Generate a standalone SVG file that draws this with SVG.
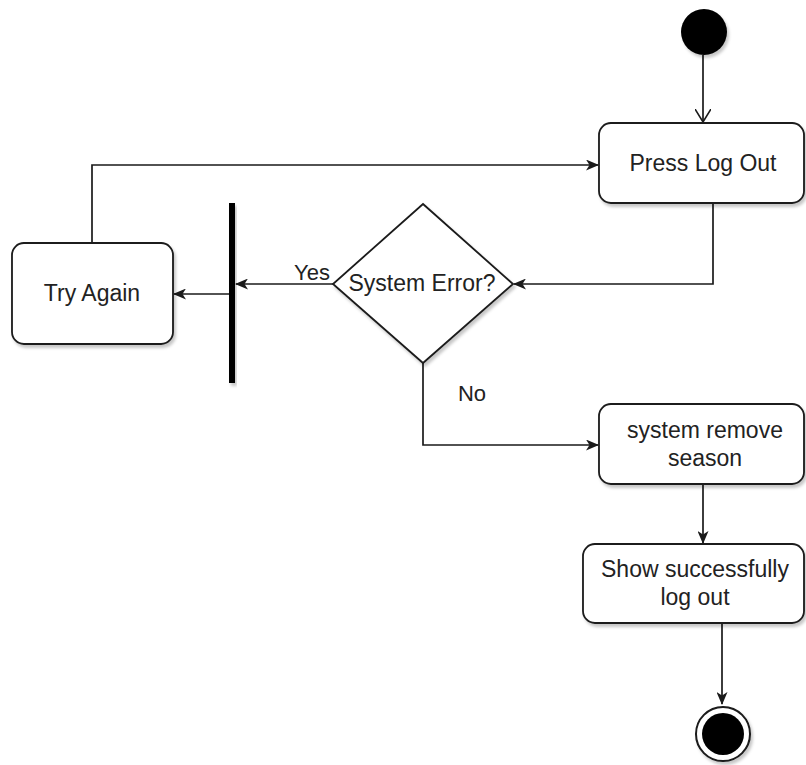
<svg xmlns="http://www.w3.org/2000/svg" width="806" height="765" viewBox="0 0 806 765">
  <style>
    .box { fill: #ffffff; stroke: #1a1a1a; stroke-width: 1.8; }
    .lbl { font-family: "Liberation Sans", Arial, sans-serif; font-size: 23px; fill: #222222; text-anchor: middle; }
    .edge { fill: none; stroke: #1a1a1a; stroke-width: 1.7; }
  </style>
  <defs>
    <filter id="shadow" x="-10%" y="-10%" width="130%" height="140%">
      <feDropShadow dx="2" dy="3" stdDeviation="1.6" flood-color="#000000" flood-opacity="0.22"/>
    </filter>
    <marker id="arrow" viewBox="0 0 13 11" refX="12" refY="5.5" markerWidth="13" markerHeight="11" markerUnits="userSpaceOnUse" orient="auto">
      <path d="M0,0 L13,5.5 L0,11 L3.5,5.5 Z" fill="#1a1a1a"/>
    </marker>
    <marker id="open" viewBox="0 0 14 16" refX="13" refY="8" markerWidth="14" markerHeight="16" markerUnits="userSpaceOnUse" orient="auto">
      <path d="M0,0 L13,8 L0,16" fill="none" stroke="#1a1a1a" stroke-width="1.6"/>
    </marker>
  </defs>
  <rect width="806" height="765" fill="#ffffff"/>

  <!-- connectors -->
  <g id="connectors">
    <path class="edge" d="M703,55 L703,122" marker-end="url(#open)"/>
    <path class="edge" d="M713,203 L713,284 L514,284" marker-end="url(#arrow)"/>
    <path class="edge" d="M333,284 L236,284" marker-end="url(#arrow)"/>
    <path class="edge" d="M229,294 L174,294" marker-end="url(#arrow)"/>
    <path class="edge" d="M92,243 L92,165 L598,165" marker-end="url(#arrow)"/>
    <path class="edge" d="M423,363 L423,445 L598,445" marker-end="url(#arrow)"/>
    <path class="edge" d="M703,484 L703,543" marker-end="url(#arrow)"/>
    <path class="edge" d="M722,623 L722,704" marker-end="url(#arrow)"/>
    <text class="lbl" x="312" y="280" style="font-size:22px">Yes</text>
    <text class="lbl" x="472" y="401" style="font-size:22px">No</text>
  </g>

  <!-- start state -->
  <g id="start">
    <circle cx="704" cy="32" r="23" fill="#000000" filter="url(#shadow)"/>
  </g>

  <g id="press-log-out">
    <rect class="box" x="599" y="123" width="205" height="80" rx="12" filter="url(#shadow)"/>
    <text class="lbl" x="703" y="171">Press Log Out</text>
  </g>

  <g id="system-error">
    <polygon class="box" points="423,204 513,284 423,363 333,284" filter="url(#shadow)"/>
    <text class="lbl" x="422" y="291">System Error?</text>
  </g>

  <g id="fork-bar">
    <rect x="229" y="203" width="6" height="180" fill="#000000" filter="url(#shadow)"/>
  </g>

  <g id="try-again">
    <rect class="box" x="12" y="243" width="161" height="101" rx="12" filter="url(#shadow)"/>
    <text class="lbl" x="92" y="301">Try Again</text>
  </g>

  <g id="system-remove-season">
    <rect class="box" x="599" y="404" width="205" height="80" rx="12" filter="url(#shadow)"/>
    <text class="lbl" x="705" y="438">system remove</text>
    <text class="lbl" x="705" y="466">season</text>
  </g>

  <g id="show-successfully">
    <rect class="box" x="583" y="544" width="221" height="79" rx="12" filter="url(#shadow)"/>
    <text class="lbl" x="695" y="577">Show successfully</text>
    <text class="lbl" x="695" y="605">log out</text>
  </g>

  <!-- final state -->
  <g id="end">
    <circle cx="723" cy="734" r="27" fill="#ffffff" stroke="#1a1a1a" stroke-width="2" filter="url(#shadow)"/>
    <circle cx="723" cy="734" r="21" fill="#000000"/>
  </g>
</svg>
